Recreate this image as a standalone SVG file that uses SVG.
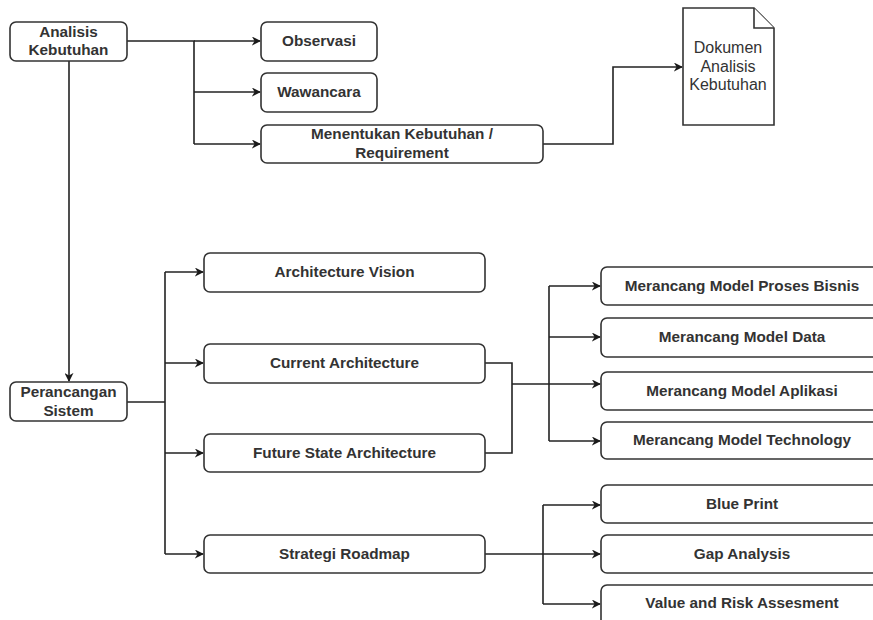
<svg xmlns="http://www.w3.org/2000/svg" width="873" height="620" viewBox="0 0 873 620">
<defs>
<marker id="arr" viewBox="0 0 10 10" refX="9" refY="5" markerWidth="9" markerHeight="9" markerUnits="userSpaceOnUse" orient="auto">
<path d="M0,0 L10,5 L0,10 L3,5 Z" fill="#1a1a1a"/>
</marker>
<style>
.box{fill:#fff;stroke:#333;stroke-width:1.6}
.t{font-family:"Liberation Sans",Arial,sans-serif;font-size:15.3px;font-weight:bold;fill:#333;text-anchor:middle}
.tr{font-family:"Liberation Sans",Arial,sans-serif;font-size:16px;fill:#333;text-anchor:middle}
.c{fill:none;stroke:#222;stroke-width:1.6}
.a{marker-end:url(#arr)}
</style>
</defs>
<rect width="873" height="620" fill="#fff"/>
<g id="connectors">
<path class="c" d="M127,41 H194 V144"/>
<path class="c a" d="M194,41 H260"/>
<path class="c a" d="M194,92 H260"/>
<path class="c a" d="M194,144 H260"/>
<path class="c a" d="M543,144 H613 V67 H682"/>
<path class="c a" d="M69,61 V381"/>
<path class="c" d="M127,402 H165"/>
<path class="c" d="M165,272 V554"/>
<path class="c a" d="M165,272 H203"/>
<path class="c a" d="M165,363 H203"/>
<path class="c a" d="M165,453 H203"/>
<path class="c a" d="M165,554 H203"/>
<path class="c" d="M485,363 H512 V453 H485"/>
<path class="c a" d="M512,384 H600"/>
<path class="c" d="M549,286 V441"/>
<path class="c a" d="M549,286 H600"/>
<path class="c a" d="M549,337 H600"/>
<path class="c a" d="M549,441 H600"/>
<path class="c a" d="M485,554 H600"/>
<path class="c" d="M543,505 V604"/>
<path class="c a" d="M543,505 H600"/>
<path class="c a" d="M543,604 H600"/>
</g>
<g id="analisis">
<rect class="box" x="10" y="22" width="117" height="39" rx="6"/>
<text class="t" x="68.5" y="37">Analisis</text>
<text class="t" x="68.5" y="55">Kebutuhan</text>
</g>
<g id="observasi">
<rect class="box" x="261" y="22" width="116" height="39" rx="6"/>
<text class="t" x="319" y="46">Observasi</text>
</g>
<g id="wawancara">
<rect class="box" x="261" y="73" width="116" height="39" rx="6"/>
<text class="t" x="319" y="97">Wawancara</text>
</g>
<g id="menentukan">
<rect class="box" x="261" y="125" width="282" height="38" rx="6"/>
<text class="t" x="402" y="139">Menentukan Kebutuhan /</text>
<text class="t" x="402" y="158">Requirement</text>
</g>
<g id="dokumen">
<path class="box" d="M683,8 H754 L774,28 V125 H683 Z"/>
<path class="box" d="M754,8 V28 H774" fill="none"/>
<text class="tr" x="728" y="53">Dokumen</text>
<text class="tr" x="728" y="72">Analisis</text>
<text class="tr" x="728" y="90">Kebutuhan</text>
</g>
<g id="perancangan">
<rect class="box" x="10" y="382" width="117" height="39" rx="6"/>
<text class="t" x="68.5" y="397">Perancangan</text>
<text class="t" x="68.5" y="416">Sistem</text>
</g>
<g id="vision">
<rect class="box" x="204" y="253" width="281" height="39" rx="6"/>
<text class="t" x="344.5" y="277">Architecture Vision</text>
</g>
<g id="current">
<rect class="box" x="204" y="344" width="281" height="39" rx="6"/>
<text class="t" x="344.5" y="368">Current Architecture</text>
</g>
<g id="future">
<rect class="box" x="204" y="434" width="281" height="38" rx="6"/>
<text class="t" x="344.5" y="458">Future State Architecture</text>
</g>
<g id="strategi">
<rect class="box" x="204" y="535" width="281" height="38" rx="6"/>
<text class="t" x="344.5" y="559">Strategi Roadmap</text>
</g>
<g id="proses">
<rect class="box" x="601" y="267" width="290" height="38" rx="6"/>
<text class="t" x="742" y="291">Merancang Model Proses Bisnis</text>
</g>
<g id="data">
<rect class="box" x="601" y="318" width="290" height="39" rx="6"/>
<text class="t" x="742" y="342">Merancang Model Data</text>
</g>
<g id="aplikasi">
<rect class="box" x="601" y="372" width="290" height="38" rx="6"/>
<text class="t" x="742" y="396">Merancang Model Aplikasi</text>
</g>
<g id="technology">
<rect class="box" x="601" y="422" width="290" height="37" rx="6"/>
<text class="t" x="742" y="445">Merancang Model Technology</text>
</g>
<g id="blueprint">
<rect class="box" x="601" y="485" width="290" height="38" rx="6"/>
<text class="t" x="742" y="509">Blue Print</text>
</g>
<g id="gap">
<rect class="box" x="601" y="535" width="290" height="38" rx="6"/>
<text class="t" x="742" y="559">Gap Analysis</text>
</g>
<g id="value">
<rect class="box" x="601" y="585" width="290" height="50" rx="6"/>
<text class="t" x="742" y="608">Value and Risk Assesment</text>
</g>
</svg>
